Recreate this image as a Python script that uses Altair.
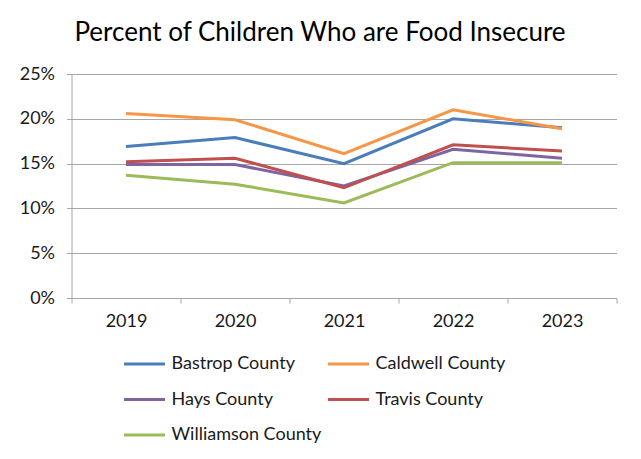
import altair as alt
import pandas as pd

years = ["2019", "2020", "2021", "2022", "2023"]
counties = ["Bastrop County", "Caldwell County", "Hays County", "Travis County", "Williamson County"]
bastrop = [16.9, 17.9, 15.0, 20.0, 19.0]
caldwell = [20.6, 19.9, 16.1, 21.0, 18.9]
hays = [14.9, 14.9, 12.5, 16.6, 15.6]
travis = [15.2, 15.6, 12.3, 17.1, 16.4]
williamson = [13.7, 12.7, 10.6, 15.1, 15.1]
colors = ["#4A7EBB", "#F79646", "#8064A2", "#C0504D", "#9BBB59"]

series = [bastrop, caldwell, hays, travis, williamson]
rows = []
for name, vals in zip(counties, series):
    for y, v in zip(years, vals):
        rows.append({"Year": y, "County": name, "Value": v})
df = pd.DataFrame(rows)

FONT = "Lato"

chart = alt.Chart(df).mark_line(strokeWidth=3).encode(
    x=alt.X("Year:O", bandPosition=0.5,
            scale=alt.Scale(type="band", paddingInner=0, paddingOuter=0),
            axis=alt.Axis(title=None, labelAngle=0, tickBand="extent", grid=False,
                          domainColor="#A6A6A6", tickColor="#A6A6A6", tickSize=5,
                          labelFontSize=18, labelColor="#1a1a1a", labelFont=FONT,
                          labelPadding=9)),
    y=alt.Y("Value:Q", scale=alt.Scale(domain=[0, 25]),
            axis=alt.Axis(title=None, values=[0, 5, 10, 15, 20, 25],
                          labelExpr="datum.value + '%'", grid=True,
                          gridColor="#A6A6A6", domainColor="#A6A6A6", tickColor="#A6A6A6",
                          tickSize=5, labelFontSize=18, labelColor="#1a1a1a",
                          labelFont=FONT, labelPadding=12)),
    color=alt.Color("County:N", scale=alt.Scale(domain=counties, range=colors),
                    legend=alt.Legend(title=None, orient="none", legendX=51, legendY=268,
                                      direction="horizontal",
                                      columns=2, symbolType="stroke", symbolSize=1681,
                                      symbolStrokeWidth=3, labelFontSize=18, labelFont=FONT,
                                      labelColor="#1a1a1a", labelOffset=5,
                                      columnPadding=0, rowPadding=4.5)),
).properties(
    width=545, height=224,
    title=alt.TitleParams("Percent of Children Who are Food Insecure", fontSize=26,
                          font=FONT, fontWeight="normal", color="#000000",
                          anchor="middle", dx=-24, offset=19),
    autosize=alt.AutoSizeParams(type="none"),
    padding={"left": 63.5, "top": 66, "right": 8, "bottom": 150},
).configure_view(stroke=None)

chart.save("out.html", embed_options={"renderer": "svg", "actions": False})
